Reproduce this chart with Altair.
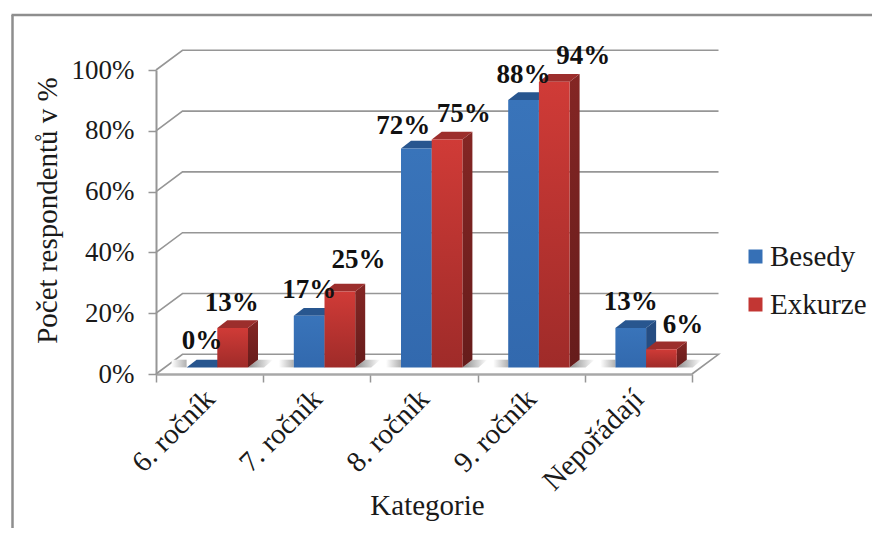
import altair as alt
import pandas as pd

CATEGORIES = ["6. ročník", "7. ročník", "8. ročník", "9. ročník", "Nepořádají"]
BESEDY = [0, 17, 72, 88, 13]
EXKURZE = [13, 25, 75, 94, 6]
SERIES = ["Besedy", "Exkurze"]
# hand placement of the value labels in the original, pixels from the bar's front top centre
NUDGE_X = {"Besedy": [0, 0, -13, 0, 0], "Exkurze": [-1, 18.6, 16.6, 29, 21.5]}
NUDGE_Y = {"Besedy": [-26, -26, -23, -25, -26], "Exkurze": [-25, -31, -25, -25.4, -24]}

W, H = 536, 304
PXX = W / 5
PXY = H / 100
FONT = "Liberation Serif"
GRAY = "#969696"
WALL_DX, WALL_DY = 26.5 / PXX, 19.7 / PXY
BAR_W, BAR_DX, BAR_DY = 30.7 / PXX, 10 / PXX, 7.7 / PXY
BASE = 6.6 / PXY
SPLIT = 0.5 + 7.7 / PXX
SH = 15 / PXX


def grad(c1, c2, horizontal=False):
    return alt.Gradient(
        gradient="linear",
        stops=[alt.GradientStop(color=c1, offset=0), alt.GradientStop(color=c2, offset=1)],
        x1=0, x2=1 if horizontal else 0, y1=0, y2=0 if horizontal else 1,
    )


def X(name="x", axis=None):
    return alt.X(f"{name}:Q", scale=alt.Scale(domain=[0, 5], nice=False, zero=False), axis=axis, title=None)


def Y(name="y", axis=None):
    return alt.Y(f"{name}:Q", scale=alt.Scale(domain=[0, 100], nice=False), axis=axis, stack=None, title=None)


# wall lines
grid = []
for level in [0, 20, 40, 60, 80, 100]:
    pts = [(0, level), (WALL_DX, level + WALL_DY), (5 + WALL_DX, level + WALL_DY)]
    if level == 0:
        pts.append((5, 0))
    for i, (x, y) in enumerate(pts):
        grid.append({"x": x, "y": y, "level": level, "ord": i})
grid = pd.DataFrame(grid)

# bars, faces, shadows, labels
front, side, top, shadow_r, shadow_l, labels = [], [], [], [], [], []
for i, cat in enumerate(CATEGORIES):
    mid = i + SPLIT
    for s, vals, left in [("Besedy", BESEDY, mid - BAR_W), ("Exkurze", EXKURZE, mid)]:
        v = vals[i] + BASE
        j = i
        r = left + BAR_W
        key = f"{s}{i}"
        front.append({"s": s, "x": left, "x2": r, "y": BASE, "y2": v})
        side += [
            {"s": s, "k": key, "x": r, "y": v, "y2": BASE},
            {"s": s, "k": key, "x": r + BAR_DX, "y": v + BAR_DY, "y2": BASE + BAR_DY},
        ]
        top += [
            {"s": s, "k": key, "x": left, "y": v, "y2": v},
            {"s": s, "k": key, "x": left + BAR_DX, "y": v + BAR_DY, "y2": v},
            {"s": s, "k": key, "x": r, "y": v + BAR_DY, "y2": v},
            {"s": s, "k": key, "x": r + BAR_DX, "y": v + BAR_DY, "y2": v + BAR_DY},
        ]
        labels.append({
            "s": s,
            "text": f"{vals[i]}%",
            "x": left + BAR_W / 2 + NUDGE_X[s][j] / PXX,
            "y": v - NUDGE_Y[s][j] / PXY,
        })
    r = mid + BAR_W
    l = mid - BAR_W
    shadow_r += [
        {"k": i, "x": r, "y": BASE, "y2": BASE},
        {"k": i, "x": r + BAR_DX, "y": BASE + BAR_DY, "y2": BASE},
        {"k": i, "x": r + BAR_DX + SH * 0.4, "y": BASE + BAR_DY, "y2": BASE},
        {"k": i, "x": r + BAR_DX + SH, "y": BASE + BAR_DY, "y2": BASE + BAR_DY},
    ]
    shadow_l += [
        {"k": i, "x": l - SH, "y": BASE + BAR_DY, "y2": BASE},
        {"k": i, "x": l, "y": BASE + BAR_DY, "y2": BASE},
    ]
front, side, top = map(pd.DataFrame, (front, side, top))
shadow_r, shadow_l, labels = map(pd.DataFrame, (shadow_r, shadow_l, labels))
one = pd.DataFrame({"a": [0]})
names_js = "[" + ",".join(f"'{c}'" for c in CATEGORIES) + "]"
legend_df = pd.DataFrame({"Series": SERIES, "x": [0, 0], "y": [0, 0]})

frame_left = alt.Chart(one).mark_rule(color="#8e8e8e", strokeWidth=2.5).encode(
    x=alt.value(-143.5), y=alt.value(-55), y2=alt.value(700))
frame_top = alt.Chart(one).mark_rule(color="#8e8e8e", strokeWidth=2.5).encode(
    y=alt.value(-55), x=alt.value(-144.5), x2=alt.value(900))

y_axis = alt.Axis(
    orient="left",
    values=[0, 20, 40, 60, 80, 100], labelExpr="datum.value + '%'", grid=False,
    tickSize=8, tickColor=GRAY, tickWidth=1.5, domainColor=GRAY, domainWidth=2,
    labelFont=FONT, labelFontSize=27, labelColor="#1a1a1a", labelPadding=14,
    title="Počet respondentů v %", titleFont=FONT, titleFontSize=29, titleFontWeight="normal",
    titleColor="#1a1a1a", titleX=-109, titleY=140, titleAngle=270, titleAlign="center",
    titleBaseline="middle",
)
x_ticks = alt.Axis(
    orient="bottom",
    values=[0, 1, 2, 3, 4, 5], labels=False, grid=False, tickSize=8, tickColor=GRAY,
    tickWidth=1.5, domainColor="#a8a8a8", domainWidth=2.5, title=None,
)
x_labels = alt.Axis(
    orient="bottom",
    values=[0.5, 1.5, 2.5, 3.5, 4.5], ticks=False, domain=False, grid=False,
    labelExpr=f"{names_js}[floor(datum.value)]", labelAngle=315, labelAlign="right",
    labelBaseline="middle", labelFont=FONT, labelFontSize=29, labelColor="#1a1a1a",
    labelPadding=20, labelOverlap=False, labelBound=False, labelFlush=False,
    title="Kategorie", titleFont=FONT, titleFontSize=29, titleFontWeight="normal",
    titleColor="#1a1a1a", titleX=271, titleY=131, titleAlign="center", titleBaseline="middle",
)

grid_chart = alt.Chart(grid).mark_line(color=GRAY, strokeWidth=1.6).encode(
    x=X(axis=x_ticks), y=Y(axis=y_axis), detail="level:N", order="ord:Q")

sh_r = alt.Chart(shadow_r).mark_area(orient="vertical", color=grad("#8a8a8a", "#ffffff", True)).encode(
    x=X(), y=Y(), y2="y2:Q", detail="k:N")
sh_l = alt.Chart(shadow_l).mark_area(orient="vertical", color=grad("#ffffff", "#b0b0b0", True)).encode(
    x=X(), y=Y(), y2="y2:Q", detail="k:N")


def faces(series, side_c, top_c, front_c):
    return [
        alt.Chart(side[side.s == series]).mark_area(orient="vertical", color=side_c).encode(
            x=X(), y=Y(), y2="y2:Q", detail="k:N"),
        alt.Chart(top[top.s == series]).mark_area(orient="vertical", color=top_c).encode(
            x=X(), y=Y(), y2="y2:Q", detail="k:N"),
        alt.Chart(front[front.s == series]).mark_rect(color=front_c).encode(
            x=X(), x2="x2:Q", y=Y(), y2="y2:Q"),
    ]


blue = faces("Besedy", "#254d82", "#28568f", grad("#3974ba", "#3269ae"))
red = faces("Exkurze", grad("#842624", "#661c1b"), "#9c2e2c", grad("#d03b37", "#9f2b29"))

legend_layer = alt.Chart(legend_df).mark_rect(opacity=0).encode(
    x=X(), x2="x:Q", y=Y(), y2="y:Q",
    color=alt.Color("Series:N", scale=alt.Scale(domain=SERIES, range=["#3670b6", "#c23633"]),
                    legend=alt.Legend(
                        title=None, orient="none", legendX=585, legendY=172, symbolType="square",
                        symbolSize=196, symbolOpacity=1, symbolStrokeWidth=0, labelFont=FONT,
                        labelFontSize=29, labelColor="#1a1a1a", rowPadding=18, labelOffset=0,
                        labelLimit=200)),
)

text = alt.Chart(labels).mark_text(
    font=FONT, fontSize=27, fontWeight="bold", color="#111111", align="center", baseline="middle"
).encode(x=X(axis=x_labels), y=Y(), text="text:N")

chart = alt.layer(
    frame_left, frame_top, grid_chart, sh_r, sh_l, *blue, *red, legend_layer, text
).resolve_axis(x="independent", y="independent").properties(
    width=W, height=H,
    padding={"left": 148, "top": 62, "right": 180, "bottom": 154},
    autosize=alt.AutoSizeParams(type="none", contains="content"),
).configure_view(stroke=None)

chart.save("out.html", embed_options={"renderer": "svg", "actions": False})
